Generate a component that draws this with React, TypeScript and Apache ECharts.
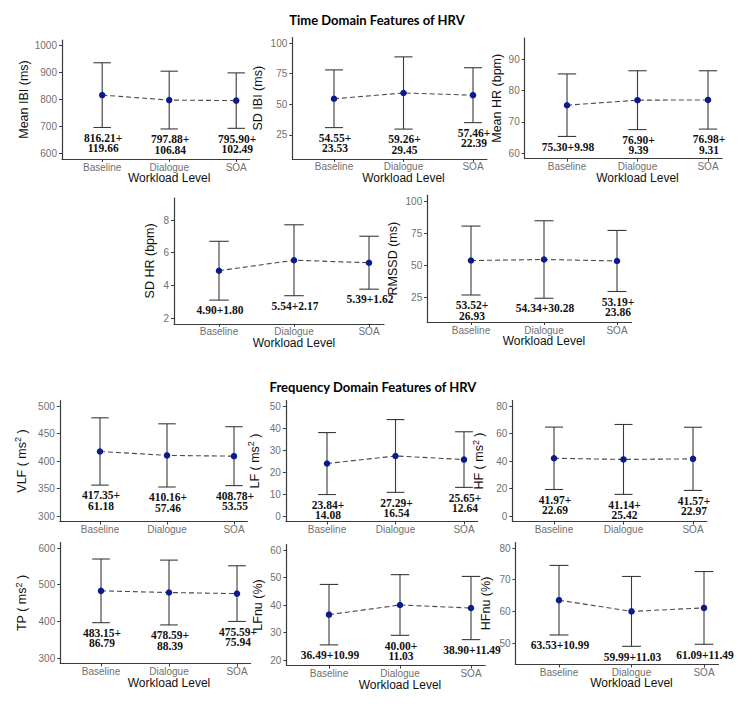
import React, { useEffect, useRef } from "react";
import * as echarts from "echarts";

const levels = ["Baseline", "Dialogue", "SOA"];
const levelPos = [1, 2, 3];

const ibiMean = [816.21, 797.88, 795.9];
const ibiSd = [119.66, 106.84, 102.49];
const ibiWrap = [true, true, true];
const ibiTicks = [600, 700, 800, 900, 1000];

const sdIbiMean = [54.55, 59.26, 57.46];
const sdIbiSd = [23.53, 29.45, 22.39];
const sdIbiWrap = [true, true, true];
const sdIbiTicks = [25, 50, 75, 100];

const hrMean = [75.3, 76.9, 76.98];
const hrSd = [9.98, 9.39, 9.31];
const hrWrap = [false, true, true];
const hrTicks = [60, 70, 80, 90];

const sdHrMean = [4.9, 5.54, 5.39];
const sdHrSd = [1.8, 2.17, 1.62];
const sdHrWrap = [false, false, false];
const sdHrTicks = [2, 4, 6, 8];

const rmssdMean = [53.52, 54.34, 53.19];
const rmssdSd = [26.93, 30.28, 23.86];
const rmssdWrap = [true, false, true];
const rmssdTicks = [25, 50, 75, 100];

const vlfMean = [417.35, 410.16, 408.78];
const vlfSd = [61.18, 57.46, 53.55];
const vlfWrap = [true, true, true];
const vlfTicks = [300, 350, 400, 450, 500];

const lfMean = [23.84, 27.29, 25.65];
const lfSd = [14.08, 16.54, 12.64];
const lfWrap = [true, true, true];
const lfTicks = [0, 10, 20, 30, 40, 50];

const hfMean = [41.97, 41.14, 41.57];
const hfSd = [22.69, 25.42, 22.97];
const hfWrap = [true, true, true];
const hfTicks = [0, 20, 40, 60, 80];

const tpMean = [483.15, 478.59, 475.59];
const tpSd = [86.79, 88.39, 75.94];
const tpWrap = [true, true, true];
const tpTicks = [300, 400, 500, 600];

const lfnuMean = [36.49, 40.0, 38.9];
const lfnuSd = [10.99, 11.03, 11.49];
const lfnuWrap = [false, true, false];
const lfnuTicks = [20, 30, 40, 50, 60];

const hfnuMean = [63.53, 59.99, 61.09];
const hfnuSd = [10.99, 11.03, 11.49];
const hfnuWrap = [false, false, false];
const hfnuTicks = [50, 60, 70, 80];

const xTitle = "Workload Level";
const timeTitle = "Time Domain Features of HRV";
const freqTitle = "Frequency Domain Features of HRV";

type Panel = {
  yName: string;
  mean: number[];
  sd: number[];
  wrap: boolean[];
  ticks: number[];
  ymin: number;
  ymax: number;
  left: number;
  top: number;
  width: number;
  height: number;
  nameGap: number;
  showX: boolean;
};

const sup = (a: string) => `{n|${a} ( ms}{s|2}{n| )}`;

const panels: Panel[] = [
  { yName: "Mean IBI (ms)", mean: ibiMean, sd: ibiSd, wrap: ibiWrap, ticks: ibiTicks, ymin: 580, ymax: 1020, left: 62, top: 40, width: 187.6, height: 119, nameGap: 32, showX: true },
  { yName: "SD IBI (ms)", mean: sdIbiMean, sd: sdIbiSd, wrap: sdIbiWrap, ticks: sdIbiTicks, ymin: 5.5, ymax: 104.5, left: 292.3, top: 37.5, width: 194.6, height: 121.4, nameGap: 28, showX: true },
  { yName: "Mean HR (bpm)", mean: hrMean, sd: hrSd, wrap: hrWrap, ticks: hrTicks, ymin: 58.25, ymax: 96.75, left: 524.7, top: 38, width: 197.4, height: 120.6, nameGap: 21, showX: true },
  { yName: "SD HR (bpm)", mean: sdHrMean, sd: sdHrSd, wrap: sdHrWrap, ticks: sdHrTicks, ymin: 1.65, ymax: 9.35, left: 174, top: 198, width: 210, height: 125.8, nameGap: 18, showX: true },
  { yName: "RMSSD (ms)", mean: rmssdMean, sd: rmssdSd, wrap: rmssdWrap, ticks: rmssdTicks, ymin: 5.5, ymax: 104.5, left: 427.2, top: 195.3, width: 204.4, height: 126.7, nameGap: 28, showX: true },
  { yName: sup("VLF"), mean: vlfMean, sd: vlfSd, wrap: vlfWrap, ticks: vlfTicks, ymin: 290, ymax: 510, left: 59.8, top: 400.5, width: 187.6, height: 121, nameGap: 30, showX: false },
  { yName: sup("LF"), mean: lfMean, sd: lfSd, wrap: lfWrap, ticks: lfTicks, ymin: -2.5, ymax: 52.5, left: 285.9, top: 400.5, width: 191.8, height: 121, nameGap: 23, showX: false },
  { yName: sup("HF"), mean: hfMean, sd: hfSd, wrap: hfWrap, ticks: hfTicks, ymin: -4, ymax: 84, left: 512.3, top: 400.5, width: 194.6, height: 121, nameGap: 25, showX: false },
  { yName: sup("TP"), mean: tpMean, sd: tpSd, wrap: tpWrap, ticks: tpTicks, ymin: 285, ymax: 615, left: 60.2, top: 542.5, width: 190.4, height: 121, nameGap: 30, showX: true },
  { yName: "LFnu (%)", mean: lfnuMean, sd: lfnuSd, wrap: lfnuWrap, ticks: lfnuTicks, ymin: 18, ymax: 62, left: 286.4, top: 544.5, width: 198.8, height: 121, nameGap: 22, showX: true },
  { yName: "HFnu (%)", mean: hfnuMean, sd: hfnuSd, wrap: hfnuWrap, ticks: hfnuTicks, ymin: 43.25, ymax: 81.75, left: 515.5, top: 542.5, width: 203, height: 121.9, nameGap: 23, showX: true },
];

const XMIN = 0.4;
const XMAX = 3.2;
const AXIS = "#3a3a3a";
const TICKTXT = "#707070";
const BAR = "#3a3a3a";
const DOT = "#0b1a8c";

const fmt = (v: number) => v.toFixed(2);

function buildOption() {
  const grid: any[] = [];
  const xAxis: any[] = [];
  const yAxis: any[] = [];
  const series: any[] = [];
  panels.forEach((p, i) => {
    grid.push({ left: p.left, top: p.top, width: p.width, height: p.height });
    const unit = p.width / (XMAX - XMIN);
    const shift = (2 - (XMIN + XMAX) / 2) * unit;
    xAxis.push({
      gridIndex: i,
      type: "value",
      min: XMIN,
      max: XMAX,
      splitLine: { show: false },
      axisLine: { show: true, onZero: false, lineStyle: { color: AXIS, width: 1.2 } },
      axisTick: { show: true, customValues: levelPos, length: 3, lineStyle: { color: AXIS } },
      axisLabel: {
        customValues: levelPos,
        formatter: (v: number) => levels[Math.round(v) - 1],
        color: TICKTXT,
        fontSize: 10,
        fontFamily: "Liberation Sans",
        margin: 3,
      },
      name: p.showX ? xTitle : "",
      nameLocation: "middle",
      nameGap: 13,
      nameMoveOverlap: false,
      nameTextStyle: {
        color: "#111",
        fontSize: 12,
        fontFamily: "Liberation Sans",
        verticalAlign: "top",
        padding: [0, 0, 0, 2 * shift],
      },
    });
    yAxis.push({
      gridIndex: i,
      type: "value",
      min: p.ymin,
      max: p.ymax,
      splitLine: { show: false },
      axisLine: { show: true, onZero: false, lineStyle: { color: AXIS, width: 1.2 } },
      axisTick: { show: true, customValues: p.ticks, length: 3, lineStyle: { color: AXIS } },
      axisLabel: {
        customValues: p.ticks,
        formatter: (v: number) => String(v),
        color: TICKTXT,
        fontSize: 10,
        fontFamily: "Liberation Sans",
        margin: 5,
      },
      name: p.yName,
      nameLocation: "middle",
      nameGap: p.nameGap,
      nameMoveOverlap: false,
      nameTextStyle: {
        color: "#111",
        fontSize: 12.5,
        fontFamily: "Liberation Sans",
        rich: {
          n: { fontSize: 12.5, fontFamily: "Liberation Sans", color: "#111", lineHeight: 16 },
          s: { fontSize: 9, fontFamily: "Liberation Sans", color: "#111", verticalAlign: "top", lineHeight: 9 },
        },
      },
    });
    const labels = p.mean.map((m, k) =>
      p.wrap[k] ? `${fmt(m)}+\n${fmt(p.sd[k])}` : `${fmt(m)}+${fmt(p.sd[k])}`
    );
    series.push({
      type: "custom",
      xAxisIndex: i,
      yAxisIndex: i,
      clip: false,
      z: 2,
      data: p.mean.map((m, k) => [levelPos[k], m, p.sd[k]]),
      encode: { x: 0, y: 1 },
      renderItem: (params: any, api: any) => {
        const x = api.value(0);
        const m = api.value(1);
        const s = api.value(2);
        const hw = 0.13;
        const t = api.coord([x, m + s]);
        const b = api.coord([x, m - s]);
        const l = api.coord([x - hw, m])[0];
        const r = api.coord([x + hw, m])[0];
        const ls = { stroke: BAR, lineWidth: 1.1 };
        return {
          type: "group",
          children: [
            { type: "line", shape: { x1: t[0], y1: t[1], x2: b[0], y2: b[1] }, style: ls },
            { type: "line", shape: { x1: l, y1: t[1], x2: r, y2: t[1] }, style: ls },
            { type: "line", shape: { x1: l, y1: b[1], x2: r, y2: b[1] }, style: ls },
            {
              type: "text",
              x: b[0] + 1,
              y: b[1] + 5,
              style: {
                text: labels[params.dataIndex],
                fill: "#111",
                fontSize: 11.5,
                fontWeight: "bold",
                fontFamily: "Liberation Serif",
                align: "center",
                verticalAlign: "top",
                lineHeight: 10.5,
              },
            },
          ],
        };
      },
    });
    series.push({
      type: "line",
      xAxisIndex: i,
      yAxisIndex: i,
      z: 3,
      data: p.mean.map((m, k) => [levelPos[k], m]),
      symbol: "circle",
      symbolSize: 6.5,
      itemStyle: { color: DOT },
      lineStyle: { color: "#4a4a4a", width: 1.1, type: [5, 3] },
    });
  });
  return {
    animation: false,
    backgroundColor: "#ffffff",
    grid,
    xAxis,
    yAxis,
    series,
    graphic: [
      {
        type: "text",
        x: 377,
        y: 20,
        style: { text: timeTitle, align: "center", verticalAlign: "middle", fontSize: 13, fontWeight: "bold", fontFamily: "Lato", fill: "#000" },
      },
      {
        type: "text",
        x: 373,
        y: 387,
        style: { text: freqTitle, align: "center", verticalAlign: "middle", fontSize: 13, fontWeight: "bold", fontFamily: "Lato", fill: "#000" },
      },
    ],
  };
}

export default function App() {
  const ref = useRef<HTMLDivElement>(null);
  useEffect(() => {
    if (!ref.current) return;
    const chart = echarts.init(ref.current, undefined, { renderer: "svg" });
    chart.setOption(buildOption() as any);
    return () => chart.dispose();
  }, []);
  return (
    <div
      ref={ref}
      style={{ position: "fixed", left: 0, top: 0, width: 742, height: 704, background: "#fff" }}
    />
  );
}
